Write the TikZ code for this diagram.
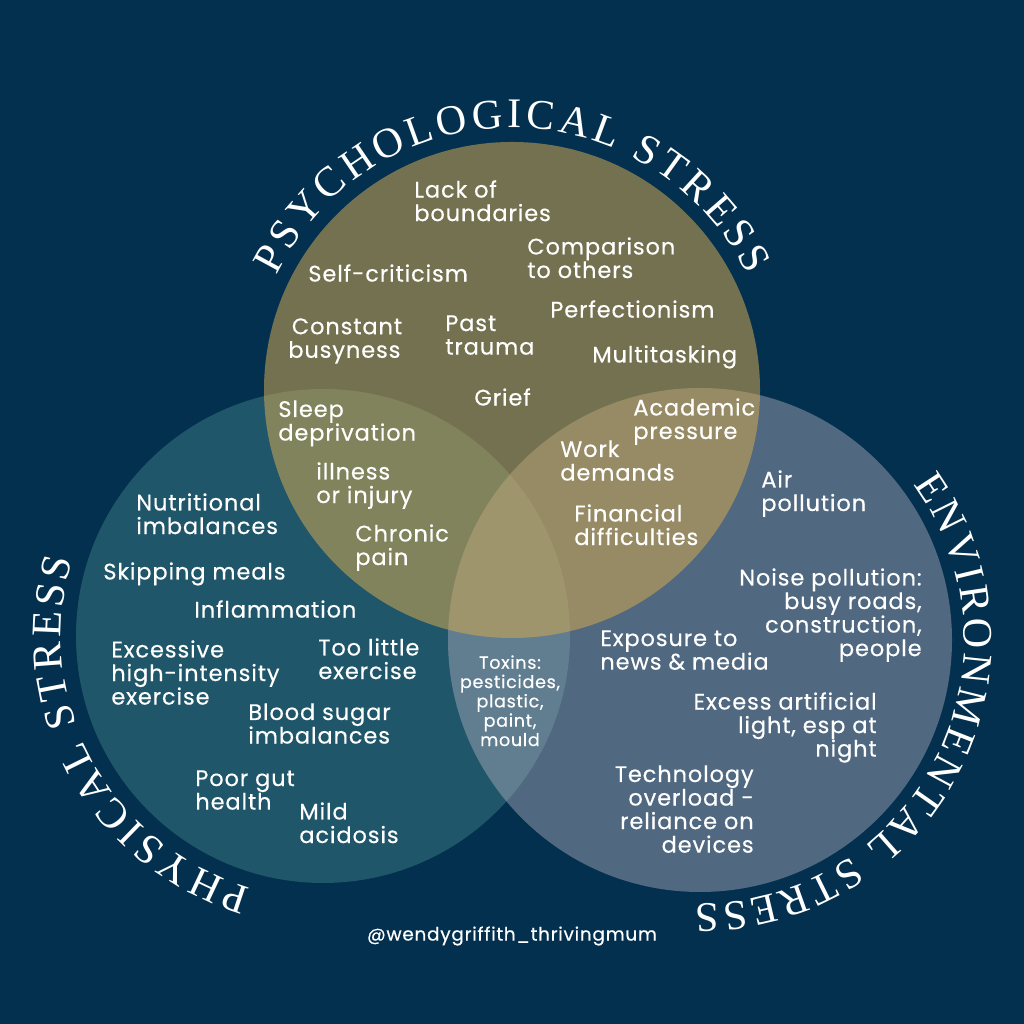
\documentclass[tikz,border=0pt]{standalone}
\usepackage{fontspec}
\setmainfont[LetterSpace=4,FakeBold=0.4]{Poppins}
\newfontfamily\titlefont{Liberation Serif}
\usetikzlibrary{decorations.text}
\definecolor{navy}{RGB}{2,48,78}
\definecolor{olive}{RGB}{210,168,82}
\definecolor{teal}{RGB}{75,143,148}
\definecolor{slate}{RGB}{197,188,203}
\tikzset{
 lbl/.style={text=white,font=\fontsize{12.8}{13.4}\selectfont,inner sep=0pt,align=left,anchor=north west},
 lblr/.style={lbl,align=right,anchor=north east},
 title/.style={decorate,decoration={text along path,text align={fit to path},
   text={|\titlefont\fontsize{24}{24}\selectfont\color{white}|#1}}}
}
\begin{document}
\begin{tikzpicture}[x=0.02cm,y=0.02cm]
 \fill[navy] (0,0) rectangle (1024,1024);
 \def\cT{512,634}
 \def\cL{323,388}
 \def\cR{700,384}
 \fill[teal,fill opacity=0.4] (\cL) circle (247);
 \fill[slate,fill opacity=0.4] (\cR) circle (252);
 \fill[olive,fill opacity=0.55] (\cT) circle (248);
 % titles along the circles
 \path[title={PSYCHOLOGICAL STRESS}] (\cT) ++(154:262) arc (154:26:262);
 \path[title={PHYSICAL STRESS}] (\cL) ++(254:262) arc (254:163:262);
 \path[title={ENVIRONMENTAL STRESS}] (\cR) ++(36:264) arc (36:-91:264);
 % psychological
 \node[lbl] (lack) at (414,844) {Lack of\\boundaries};
 \node[lbl] (comp) at (527,787) {Comparison\\to others};
 \node[lbl] (self) at (308,760) {Self-criticism};
 \node[lbl] (perf) at (550,724) {Perfectionism};
 \node[lbl] (busy) at (288,706) {\hspace*{2pt}Constant\\busyness};
 \node[lbl] (past) at (445,709) {Past\\trauma};
 \node[lbl] (multi) at (592,679) {Multitasking};
 \node[lbl] (grief) at (474,636) {Grief};
 \node[lbl] (sleep) at (278,624) {Sleep\\deprivation};
 \node[lbl] (acad) at (633,626) {Academic\\pressure};
 \node[lbl] (work) at (560,584) {Work\\demands};
 \node[lbl] (ill) at (316,562) {illness\\or injury};
 \node[lbl] (fin) at (574,520) {Financial\\difficulties};
 \node[lbl] (pain) at (355,500) {Chronic\\pain};
 % physical
 \node[lbl] (nutri) at (136,531) {Nutritional\\imbalances};
 \node[lbl] (skip) at (103,462) {Skipping meals};
 \node[lbl] (infl) at (194,424) {Inflammation};
 \node[lbl] (exc) at (111,384) {Excessive\\high-intensity\\exercise};
 \node[lbl] (little) at (318,386) {Too little\\exercise};
 \node[lbl] (blood) at (248,321) {Blood sugar\\imbalances};
 \node[lbl] (gut) at (195,254) {Poor gut\\health};
 \node[lbl] (acid) at (299,222) {Mild\\acidosis};
 % environmental
 \node[lbl] (air) at (761,554) {Air\\pollution};
 \node[lblr] (noise) at (922,456) {Noise pollution:\\busy roads,\\construction,\\people};
 \node[lbl] (news) at (600,394) {Exposure to\\news \& media};
 \node[lblr] (light) at (877,332) {Excess artificial\\light, esp at\\night};
 \node[lblr] (tech) at (754,259) {Technology\\overload -\\reliance on\\devices};
 \node[lbl,align=center,anchor=north,font=\fontsize{10}{11}\selectfont] (tox) at (510,369) {Toxins:\\pesticides,\\plastic,\\paint,\\mould};
 \node[lbl,align=center,anchor=center,font=\fontsize{10.5}{12}\selectfont] (handle) at (512,88) {@wendygriffith\_thrivingmum};
\end{tikzpicture}
\end{document}
